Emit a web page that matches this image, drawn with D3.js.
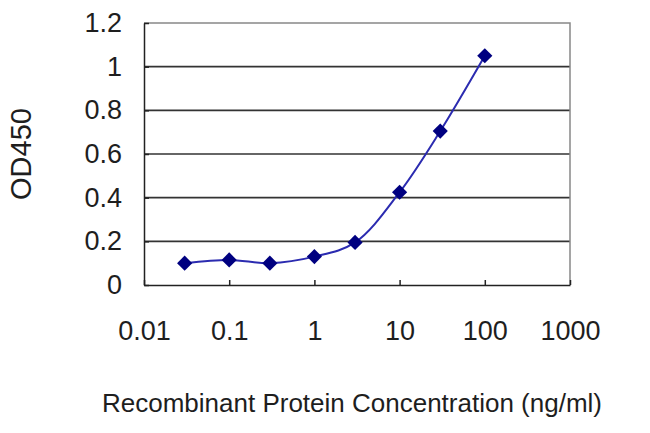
<!DOCTYPE html>
<html>
<head>
<meta charset="utf-8">
<script src="https://cdn.jsdelivr.net/npm/d3@7"></script>
<style>
  html, body { margin: 0; padding: 0; background: #fff; overflow: hidden; }
  svg { display: block; }
  svg text { font-family: "Liberation Sans", Arial, sans-serif; fill: #1e1e1e; }
  .grid-line { stroke: #333; stroke-width: 1.6; }
  .frame { fill: none; stroke: #888; stroke-width: 1.5; }
  .axis path, .axis line { stroke: #222; stroke-width: 1.5; }
  .path-line { fill: none; stroke: #2b2bb0; stroke-width: 2; }
  .marker { fill: #000080; }
</style>
</head>
<body>
<svg width="650" height="433"></svg>
<script>
'use strict';

// ELISA standard curve values
var CONC = [0.03, 0.1, 0.3, 1, 3, 10, 30, 100];
var OD = [0.10, 0.115, 0.10, 0.13, 0.195, 0.425, 0.705, 1.05];
var X_TICKS = [0.01, 0.1, 1, 10, 100, 1000];
var X_LABELS = ['0.01', '0.1', '1', '10', '100', '1000'];
var Y_TICKS = [0, 0.2, 0.4, 0.6, 0.8, 1, 1.2];
var Y_LABELS = ['0', '0.2', '0.4', '0.6', '0.8', '1', '1.2'];

var svg = d3.select('svg');
var margin = { top: 23, right: 80, bottom: 148, left: 144 };
var width = 650, height = 433;
var innerWidth = width - margin.left - margin.right;
var innerHeight = height - margin.top - margin.bottom;

var xScale = d3.scaleLog().domain([0.01, 1000]).range([0, innerWidth]);
var yScale = d3.scaleLinear().domain([0, 1.2]).range([innerHeight, 0]);

var inner = svg.append('g')
  .attr('transform', 'translate(' + margin.left + ',' + margin.top + ')');

// grid lines
inner.append('g').selectAll('line')
  .data(Y_TICKS.filter(function (d) { return d > 0 && d < 1.2; }))
  .enter().append('line')
  .attr('class', 'grid-line')
  .attr('x1', 0).attr('x2', innerWidth)
  .attr('y1', function (d) { return yScale(d); })
  .attr('y2', function (d) { return yScale(d); });

// gray frame top/right
inner.append('path').attr('class', 'frame')
  .attr('d', 'M0,' + yScale(1.2) + 'H' + innerWidth + 'V' + innerHeight);

var xAxis = d3.axisBottom(xScale).tickValues(X_TICKS)
  .tickFormat(function (d, i) { return X_LABELS[i]; })
  .tickSizeInner(-5).tickSizeOuter(0).tickPadding(36);
var yAxis = d3.axisLeft(yScale).tickValues(Y_TICKS)
  .tickFormat(function (d, i) { return Y_LABELS[i]; })
  .tickSizeInner(-5).tickSizeOuter(0).tickPadding(22);

var xa = inner.append('g').attr('class', 'x axis')
  .attr('transform', 'translate(0,' + innerHeight + ')').call(xAxis);
xa.selectAll('text').attr('font-size', 27);

var ya = inner.append('g').attr('class', 'y axis').call(yAxis);
ya.selectAll('text').attr('font-size', 27);

// data line
var line = d3.line()
  .x(function (d) { return xScale(d[0]); })
  .y(function (d) { return yScale(d[1]); })
  .curve(d3.curveCatmullRom.alpha(0.5));

var points = CONC.map(function (c, i) { return [c, OD[i]]; });

inner.append('path').attr('class', 'path-line').attr('d', line(points));

inner.append('g').selectAll('path')
  .data(points)
  .enter().append('path')
  .attr('class', 'marker')
  .attr('d', d3.symbol().type(d3.symbolSquare).size(115))
  .attr('transform', function (d) {
    return 'translate(' + xScale(d[0]) + ',' + yScale(d[1]) + ') rotate(45)';
  });

// axis titles
svg.append('text')
  .attr('x', 352).attr('y', 412)
  .attr('text-anchor', 'middle')
  .attr('font-size', 26)
  .text('Recombinant Protein Concentration (ng/ml)');

svg.append('text')
  .attr('transform', 'translate(31,' + (margin.top + innerHeight / 2) + ') rotate(-90)')
  .attr('text-anchor', 'middle')
  .attr('font-size', 29)
  .text('OD450');
</script>
</body>
</html>
